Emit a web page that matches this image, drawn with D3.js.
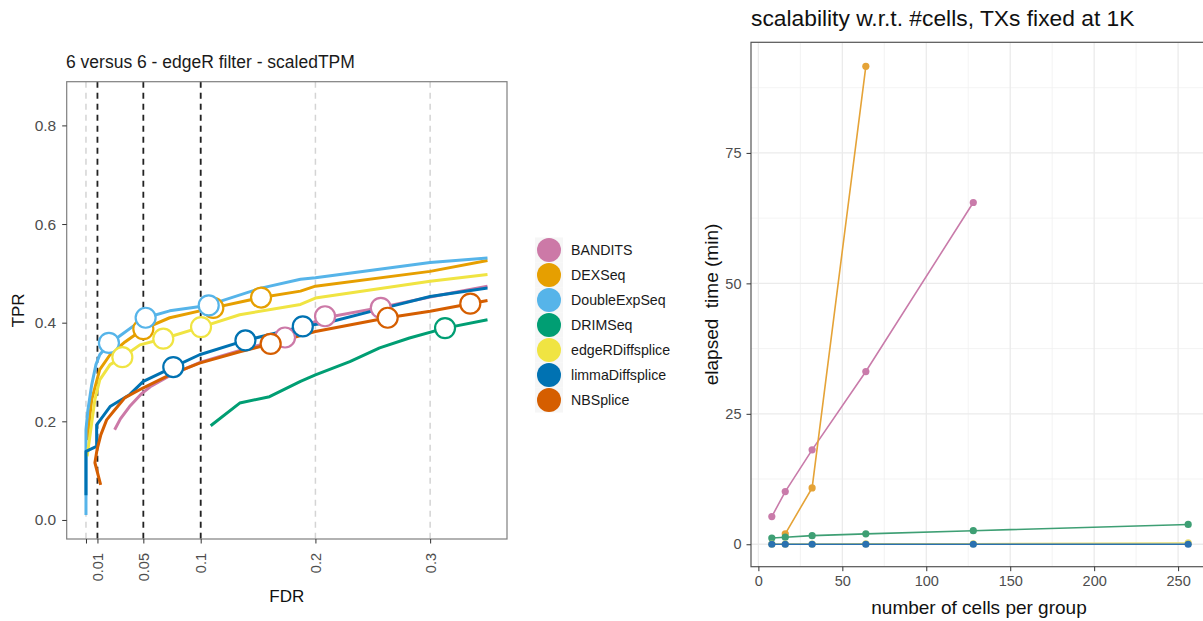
<!DOCTYPE html>
<html>
<head>
<meta charset="utf-8">
<script src="https://cdn.jsdelivr.net/npm/d3@7"></script>
<style>
  body { margin: 0; background: #fff; }
  text { font-family: "Liberation Sans", Arial, sans-serif; }
</style>
</head>
<body>
<div id="chart"></div>
<script>
// ---- data: left panel (FDR / TPR curves) ----
const methods = ["BANDITS", "DEXSeq", "DoubleExpSeq", "DRIMSeq", "edgeRDiffsplice", "limmaDiffsplice", "NBSplice"];
const methodColors = ["#CC79A7", "#E69F00", "#56B4E9", "#009E73", "#F0E442", "#0072B2", "#D55E00"];

const curveBANDITS = [[0.025, 0.183], [0.030, 0.205], [0.038, 0.230], [0.048, 0.255], [0.056, 0.270], [0.075, 0.295], [0.100, 0.320], [0.135, 0.344], [0.160, 0.360], [0.1735, 0.370], [0.190, 0.393], [0.2084, 0.410], [0.257, 0.431], [0.300, 0.452], [0.350, 0.474]];
const curveDEXSeq = [[0.001, 0.162], [0.005, 0.244], [0.012, 0.305], [0.021, 0.335], [0.034, 0.361], [0.050, 0.387], [0.073, 0.410], [0.111, 0.430], [0.1526, 0.451], [0.187, 0.464], [0.200, 0.474], [0.300, 0.504], [0.350, 0.526]];
const curveDoubleExpSeq = [[0, 0.010], [0, 0.183], [0.0017, 0.223], [0.005, 0.274], [0.0087, 0.315], [0.012, 0.335], [0.020, 0.357], [0.030, 0.374], [0.043, 0.396], [0.052, 0.410], [0.073, 0.424], [0.106, 0.435], [0.1526, 0.470], [0.187, 0.488], [0.200, 0.491], [0.300, 0.522], [0.350, 0.531]];
const curveDRIMSeq = [[0.1087, 0.191], [0.134, 0.237], [0.160, 0.250], [0.187, 0.281], [0.200, 0.294], [0.230, 0.321], [0.256, 0.349], [0.282, 0.369], [0.313, 0.389], [0.350, 0.406]];
const curveEdgeR = [[0.001, 0.129], [0.0078, 0.244], [0.012, 0.284], [0.021, 0.315], [0.0317, 0.330], [0.047, 0.355], [0.0674, 0.3675], [0.1003, 0.391], [0.134, 0.416], [0.187, 0.437], [0.200, 0.450], [0.300, 0.484], [0.350, 0.4975]];
const curveLimma = [[0, 0.050], [0, 0.139], [0.0093, 0.149], [0.0093, 0.193], [0.021, 0.230], [0.038, 0.254], [0.050, 0.281], [0.076, 0.310], [0.099, 0.335], [0.139, 0.364], [0.189, 0.3925], [0.210, 0.400], [0.257, 0.428], [0.300, 0.453], [0.350, 0.4705]];
const curveNBSplice = [[0.0128, 0.071], [0.0078, 0.116], [0.0096, 0.142], [0.013, 0.173], [0.018, 0.203], [0.025, 0.223], [0.034, 0.248], [0.050, 0.268], [0.073, 0.294], [0.099, 0.318], [0.134, 0.341], [0.161, 0.357], [0.200, 0.382], [0.263, 0.410], [0.300, 0.423], [0.350, 0.445]];

const pointsBANDITS = [[0.1735, 0.370], [0.2084, 0.413], [0.257, 0.430]];
const pointsDEXSeq = [[0.050, 0.387], [0.111, 0.430], [0.1526, 0.451]];
const pointsDoubleExpSeq = [[0.020, 0.359], [0.052, 0.410], [0.107, 0.435]];
const pointsDRIMSeq = [[0.313, 0.389]];
const pointsEdgeR = [[0.0317, 0.330], [0.0674, 0.3675], [0.1003, 0.391]];
const pointsLimma = [[0.0761, 0.310], [0.139, 0.364], [0.189, 0.3925]];
const pointsNBSplice = [[0.161, 0.357], [0.263, 0.410], [0.335, 0.4386]];

const fdrThresholds = [0.01, 0.05, 0.1];
const fdrGrid = [0, 0.1, 0.2, 0.3];
const fdrTicks = [0, 0.01, 0.05, 0.1, 0.2, 0.3];
const fdrTickLabels = ["", "0.01", "0.05", "0.1", "0.2", "0.3"];
const tprTicks = [0, 0.2, 0.4, 0.6, 0.8];

// ---- data: right panel (scalability) ----
const cellsPerGroup = [8, 16, 32, 64, 128, 256];
const timeBANDITS = [5.3, 10.1, 18.1, 33.1, 65.5, null];
const timeDEXSeq = [null, 2.0, 10.8, 91.6, null, null];
const timeDRIMSeq = [1.2, 1.35, 1.65, 2.0, 2.6, 3.8];
const timeEdgeR = [0.05, 0.05, 0.05, 0.08, 0.1, 0.25];
const timeLimma = [0, 0, 0, 0, 0, 0];
const timeTicks = [0, 25, 50, 75];
const cellTicks = [0, 50, 100, 150, 200, 250];

const W = 1203, H = 621;
const svg = d3.select("#chart").append("svg")
    .attr("width", W).attr("height", H);

// ================= left panel =================
const L = { left: 66.7, right: 507, top: 81.7, bottom: 539 };
const xL = d3.scaleLinear().domain([-0.0168, 0.367]).range([L.left, L.right]);
const yL = d3.scaleLinear().domain([-0.0386, 0.8886]).range([L.bottom, L.top]);

const left = svg.append("g");

left.append("text")
    .attr("x", 66).attr("y", 68)
    .attr("font-size", 17.5).attr("fill", "#1a1a1a")
    .text("6 versus 6 - edgeR filter - scaledTPM");

// grey dashed grid
left.append("g").selectAll("line").data(fdrGrid).enter().append("line")
    .attr("x1", d => xL(d)).attr("x2", d => xL(d))
    .attr("y1", L.top).attr("y2", L.bottom)
    .attr("stroke", "#d4d4d4").attr("stroke-width", 1.5)
    .attr("stroke-dasharray", "6,5");

// threshold lines
left.append("g").selectAll("line").data(fdrThresholds).enter().append("line")
    .attr("x1", d => xL(d)).attr("x2", d => xL(d))
    .attr("y1", L.top).attr("y2", L.bottom)
    .attr("stroke", "#222").attr("stroke-width", 1.8)
    .attr("stroke-dasharray", "6,5");

const curves = [curveBANDITS, curveDEXSeq, curveDoubleExpSeq, curveDRIMSeq, curveEdgeR, curveLimma, curveNBSplice];
const points = [pointsBANDITS, pointsDEXSeq, pointsDoubleExpSeq, pointsDRIMSeq, pointsEdgeR, pointsLimma, pointsNBSplice];

const lineL = d3.line().x(d => xL(d[0])).y(d => yL(d[1]));

left.append("g").selectAll("path").data(curves).enter().append("path")
    .attr("d", lineL)
    .attr("fill", "none")
    .attr("stroke", (d, i) => methodColors[i])
    .attr("stroke-width", 3)
    .attr("stroke-linejoin", "round");

points.forEach((pts, i) => {
    left.append("g").selectAll("circle").data(pts).enter().append("circle")
        .attr("cx", d => xL(d[0]))
        .attr("cy", d => yL(d[1]))
        .attr("r", 10)
        .attr("fill", "#fff")
        .attr("stroke", methodColors[i])
        .attr("stroke-width", 2.2);
});

// border
left.append("rect")
    .attr("x", L.left).attr("y", L.top)
    .attr("width", L.right - L.left).attr("height", L.bottom - L.top)
    .attr("fill", "none").attr("stroke", "#7f7f7f").attr("stroke-width", 1.2);

// y axis
const yAxisL = left.append("g")
    .attr("transform", `translate(${L.left},0)`)
    .call(d3.axisLeft(yL).tickValues(tprTicks).tickFormat(d3.format(".1f")).tickSize(4.5).tickPadding(6));
yAxisL.select(".domain").remove();
yAxisL.selectAll(".tick line").attr("stroke", "#333");
yAxisL.selectAll(".tick text").attr("font-size", 15.5).attr("fill", "#4d4d4d")
    .attr("font-family", "Liberation Sans, Arial, sans-serif");

// x axis
const xAxisL = left.append("g")
    .attr("transform", `translate(0,${L.bottom})`)
    .call(d3.axisBottom(xL).tickValues(fdrTicks).tickFormat((d, i) => fdrTickLabels[i]).tickSize(4.5));
xAxisL.select(".domain").remove();
xAxisL.selectAll(".tick line").attr("stroke", "#333");
xAxisL.selectAll(".tick text")
    .attr("font-size", 14.5).attr("fill", "#4d4d4d")
    .attr("font-family", "Liberation Sans, Arial, sans-serif")
    .attr("text-anchor", "end")
    .attr("transform", "translate(0,14) rotate(-90)")
    .attr("x", 0).attr("y", 0).attr("dy", "0.35em");

left.append("text")
    .attr("x", (L.left + L.right) / 2).attr("y", 602)
    .attr("text-anchor", "middle").attr("font-size", 17).attr("fill", "#111")
    .text("FDR");

left.append("text")
    .attr("transform", `translate(24,${(L.top + L.bottom) / 2}) rotate(-90)`)
    .attr("text-anchor", "middle").attr("font-size", 17).attr("fill", "#111")
    .text("TPR");

// legend
const legend = left.append("g").attr("transform", "translate(549,250)");
const keys = legend.selectAll("g").data(methods).enter().append("g")
    .attr("transform", (d, i) => `translate(0,${i * 25})`);
keys.append("rect")
    .attr("x", -14).attr("y", -12.5).attr("width", 28).attr("height", 25)
    .attr("fill", "#f6f6f6");
keys.append("circle")
    .attr("r", 12)
    .attr("fill", (d, i) => methodColors[i]);
keys.append("text")
    .attr("x", 22).attr("dy", "0.35em")
    .attr("font-size", 14.2).attr("fill", "#1a1a1a")
    .text(d => d);

// ================= right panel =================
const R = { left: 751, right: 1209, top: 42.3, bottom: 566.7 };
const xR = d3.scaleLinear().domain([-4.4, 268.4]).range([R.left, R.right]);
const yR = d3.scaleLinear().domain([-4.3, 96.2]).range([R.bottom, R.top]);

const right = svg.append("g");

right.append("text")
    .attr("x", 751).attr("y", 26)
    .attr("font-size", 22.8).attr("fill", "#111")
    .text("scalability w.r.t. #cells, TXs fixed at 1K");

// minor grid
const xMinor = [25, 75, 125, 175, 225];
const yMinor = [12.5, 37.5, 62.5, 87.5];
right.append("g").selectAll("line").data(xMinor).enter().append("line")
    .attr("x1", d => xR(d)).attr("x2", d => xR(d))
    .attr("y1", R.top).attr("y2", R.bottom)
    .attr("stroke", "#f0f0f0").attr("stroke-width", 0.8);
right.append("g").selectAll("line").data(yMinor).enter().append("line")
    .attr("y1", d => yR(d)).attr("y2", d => yR(d))
    .attr("x1", R.left).attr("x2", R.right)
    .attr("stroke", "#f0f0f0").attr("stroke-width", 0.8);
// major grid
right.append("g").selectAll("line").data(cellTicks).enter().append("line")
    .attr("x1", d => xR(d)).attr("x2", d => xR(d))
    .attr("y1", R.top).attr("y2", R.bottom)
    .attr("stroke", "#ebebeb").attr("stroke-width", 1.3);
right.append("g").selectAll("line").data(timeTicks).enter().append("line")
    .attr("y1", d => yR(d)).attr("y2", d => yR(d))
    .attr("x1", R.left).attr("x2", R.right)
    .attr("stroke", "#ebebeb").attr("stroke-width", 1.3);

const timeSeries = [
    { name: "BANDITS", color: "#C97BAA", values: timeBANDITS },
    { name: "DEXSeq", color: "#E5A337", values: timeDEXSeq },
    { name: "DRIMSeq", color: "#3E9F74", values: timeDRIMSeq },
    { name: "edgeRDiffsplice", color: "#E8DC6A", values: timeEdgeR },
    { name: "limmaDiffsplice", color: "#2A71B0", values: timeLimma }
];

const lineR = d3.line()
    .defined(d => d[1] != null)
    .x(d => xR(d[0])).y(d => yR(d[1]));

timeSeries.forEach(s => {
    const pts = cellsPerGroup.map((c, i) => [c, s.values[i]]);
    right.append("path")
        .attr("d", lineR(pts))
        .attr("fill", "none")
        .attr("stroke", s.color)
        .attr("stroke-width", 1.6);
    right.append("g").selectAll("circle").data(pts.filter(d => d[1] != null)).enter().append("circle")
        .attr("cx", d => xR(d[0])).attr("cy", d => yR(d[1]))
        .attr("r", 3.6)
        .attr("fill", s.color);
});

right.append("rect")
    .attr("x", R.left).attr("y", R.top)
    .attr("width", R.right - R.left).attr("height", R.bottom - R.top)
    .attr("fill", "none").attr("stroke", "#555").attr("stroke-width", 1.2);

const yAxisR = right.append("g")
    .attr("transform", `translate(${R.left},0)`)
    .call(d3.axisLeft(yR).tickValues(timeTicks).tickSize(4.5).tickPadding(5));
yAxisR.select(".domain").remove();
yAxisR.selectAll(".tick line").attr("stroke", "#333");
yAxisR.selectAll(".tick text").attr("font-size", 14.5).attr("fill", "#4d4d4d")
    .attr("font-family", "Liberation Sans, Arial, sans-serif");

const xAxisR = right.append("g")
    .attr("transform", `translate(0,${R.bottom})`)
    .call(d3.axisBottom(xR).tickValues(cellTicks).tickSize(4.5).tickPadding(5));
xAxisR.select(".domain").remove();
xAxisR.selectAll(".tick line").attr("stroke", "#333");
xAxisR.selectAll(".tick text").attr("font-size", 14.5).attr("fill", "#4d4d4d")
    .attr("font-family", "Liberation Sans, Arial, sans-serif");

right.append("text")
    .attr("x", 979).attr("y", 614)
    .attr("text-anchor", "middle").attr("font-size", 19).attr("fill", "#111")
    .text("number of cells per group");

right.append("text")
    .attr("transform", `translate(718,${(R.top + R.bottom) / 2}) rotate(-90)`)
    .attr("text-anchor", "middle").attr("font-size", 19).attr("fill", "#111")
    .attr("xml:space", "preserve").style("white-space", "pre")
    .text("elapsed  time (min)");
</script>
</body>
</html>
